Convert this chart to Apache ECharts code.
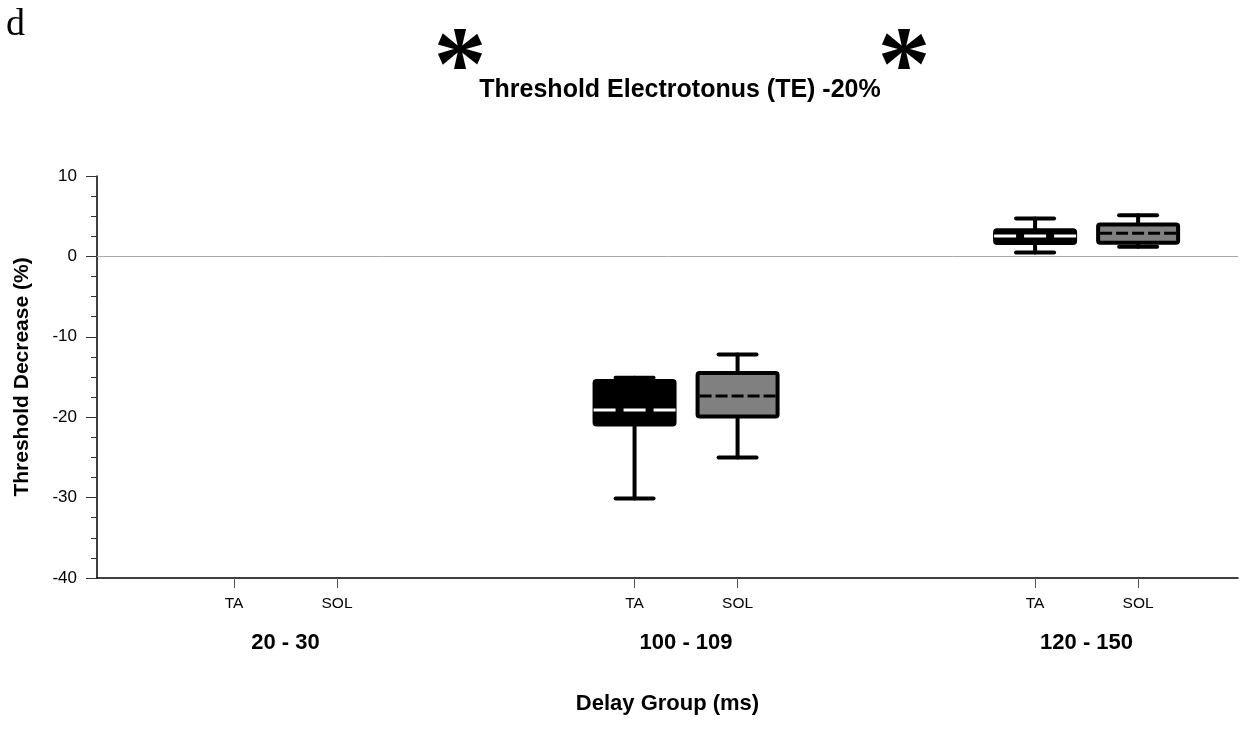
<!DOCTYPE html>
<html>
<head>
<meta charset="utf-8">
<script src="https://cdn.jsdelivr.net/npm/echarts@6/dist/echarts.min.js"></script>
<style>
html,body{margin:0;padding:0;background:#fff;}
#chart{width:1241px;height:730px;}
</style>
</head>
<body>
<div id="chart"></div>
<script>
// ---- data ----
const groups = ['20 - 30', '100 - 109', '120 - 150'];
const muscles = ['TA', 'SOL'];
// [lower whisker, Q1, median, Q3, upper whisker] per group (null = no data)
const taStats = [null, [-30.1, -20.9, -19.1, -15.5, -15.1], [0.5, 1.68, 2.55, 3.26, 4.7]];
const solStats = [null, [-25.0, -19.9, -17.35, -14.5, -12.2], [1.2, 1.7, 2.88, 3.96, 5.12]];
const yTickValues = [-40, -30, -20, -10, 0, 10];

// ---- layout / style constants ----
const muscleOffset = [-0.1286, 0.1286];
const X_MIN = -0.4707, X_MAX = 2.378;
const boxFill = ['#000000', '#808080'];
const medianColor = ['#ffffff', '#000000'];
const medianDash = [[22, 8], [12, 4]];

const statsByMuscle = [taStats, solStats];
const boxData = [];
const tickPositions = [];
const tickNames = [];
groups.forEach((g, gi) => {
  muscles.forEach((m, mi) => {
    const pos = gi + muscleOffset[mi];
    tickPositions.push(pos);
    tickNames.push(m);
    const s = statsByMuscle[mi][gi];
    if (s) boxData.push([pos].concat(s).concat([mi]));
  });
});
const groupPositions = groups.map((g, i) => i);

function nameAt(v, positions, names) {
  for (let i = 0; i < positions.length; i++) {
    if (Math.abs(v - positions[i]) < 1e-6) return names[i];
  }
  return '';
}

function renderBox(params, api) {
  const x = api.value(0);
  const mi = api.value(6);
  const pLo = api.coord([x, api.value(1)]);
  const pQ1 = api.coord([x, api.value(2)]);
  const pMed = api.coord([x, api.value(3)]);
  const pQ3 = api.coord([x, api.value(4)]);
  const pHi = api.coord([x, api.value(5)]);
  const cx = pLo[0];
  const halfBox = 40, capHalf = 19;
  const lineStyle = { stroke: '#000', lineWidth: 4, lineCap: 'round' };
  return {
    type: 'group',
    children: [
      { type: 'line', shape: { x1: cx, y1: pQ3[1], x2: cx, y2: pHi[1] }, style: lineStyle },
      { type: 'line', shape: { x1: cx, y1: pQ1[1], x2: cx, y2: pLo[1] }, style: lineStyle },
      { type: 'line', shape: { x1: cx - capHalf, y1: pHi[1], x2: cx + capHalf, y2: pHi[1] }, style: lineStyle },
      { type: 'line', shape: { x1: cx - capHalf, y1: pLo[1], x2: cx + capHalf, y2: pLo[1] }, style: lineStyle },
      { type: 'rect', shape: { x: cx - halfBox, y: pQ3[1], width: halfBox * 2, height: pQ1[1] - pQ3[1], r: 2 },
        style: { fill: boxFill[mi], stroke: '#000', lineWidth: 4, lineJoin: 'round' } },
      { type: 'line', shape: { x1: cx - (mi === 0 ? 41 : 38), y1: pMed[1], x2: cx + (mi === 0 ? 41 : 38), y2: pMed[1] },
        style: { stroke: medianColor[mi], lineWidth: 3, lineDash: medianDash[mi] } }
    ]
  };
}

const chart = echarts.init(document.getElementById('chart'));
chart.setOption({
  backgroundColor: '#fff',
  animation: false,
  grid: { left: 97, right: 3, top: 176, bottom: 152 },
  xAxis: [
    {
      type: 'value', min: X_MIN, max: X_MAX,
      axisLine: { show: true, onZero: false, lineStyle: { color: '#000', width: 1.5 } },
      axisTick: { show: true, customValues: tickPositions, length: 10, lineStyle: { color: '#555', width: 1 } },
      axisLabel: {
        show: true, customValues: tickPositions, margin: 18,
        fontFamily: 'Liberation Sans', fontSize: 15.5, color: '#000',
        formatter: v => nameAt(v, tickPositions, tickNames)
      },
      splitLine: { show: false },
      name: 'Delay Group (ms)', nameLocation: 'middle', nameGap: 115,
      nameTextStyle: { fontFamily: 'Liberation Sans', fontSize: 22, fontWeight: 'bold', color: '#000' }
    },
    {
      type: 'value', min: X_MIN, max: X_MAX, position: 'bottom',
      axisLine: { show: false, onZero: false },
      axisTick: { show: false },
      axisLabel: {
        show: true, customValues: groupPositions, margin: 54,
        fontFamily: 'Liberation Sans', fontSize: 22, fontWeight: 'bold', color: '#000',
        formatter: v => nameAt(v, groupPositions, groups)
      },
      splitLine: { show: false }
    }
  ],
  yAxis: {
    type: 'value', min: -40, max: 10, interval: 10,
    axisLine: { show: true, onZero: false, lineStyle: { color: '#000', width: 1.5 } },
    axisTick: { show: true, length: 11, lineStyle: { color: '#333', width: 1 } },
    minorTick: { show: true, splitNumber: 4, length: 6, lineStyle: { color: '#333', width: 1 } },
    axisLabel: {
      margin: 20, fontFamily: 'Liberation Sans', fontSize: 17, color: '#000',
      customValues: yTickValues
    },
    splitLine: { show: false },
    name: 'Threshold Decrease (%)', nameLocation: 'middle', nameGap: 64, nameRotate: 90,
    nameTextStyle: { fontFamily: 'Liberation Sans', fontSize: 21, fontWeight: 'bold', color: '#000' }
  },
  series: [{
    type: 'custom',
    renderItem: renderBox,
    data: boxData,
    encode: { x: 0, y: [1, 2, 3, 4, 5] },
    clip: false,
    markLine: {
      silent: true, symbol: 'none', label: { show: false },
      lineStyle: { color: '#aaaaaa', width: 1, type: 'solid' },
      data: [{ yAxis: 0 }]
    },
    z: 3
  }],
  graphic: [
    { type: 'text', left: 6, top: 6, style: { text: 'd', font: '38px "Liberation Serif"', fill: '#000' } },
    { type: 'text', x: 680, y: 90, style: { text: 'Threshold Electrotonus (TE) -20%', font: 'bold 25px "Liberation Sans"', fill: '#000', textAlign: 'center', textVerticalAlign: 'middle' } },
    { type: 'text', x: 460, y: 72, style: { text: '*', font: 'bold 106px "Liberation Serif"', fill: '#000', textAlign: 'center', textVerticalAlign: 'middle' } },
    { type: 'text', x: 904, y: 72, style: { text: '*', font: 'bold 106px "Liberation Serif"', fill: '#000', textAlign: 'center', textVerticalAlign: 'middle' } }
  ]
});
</script>
</body>
</html>
